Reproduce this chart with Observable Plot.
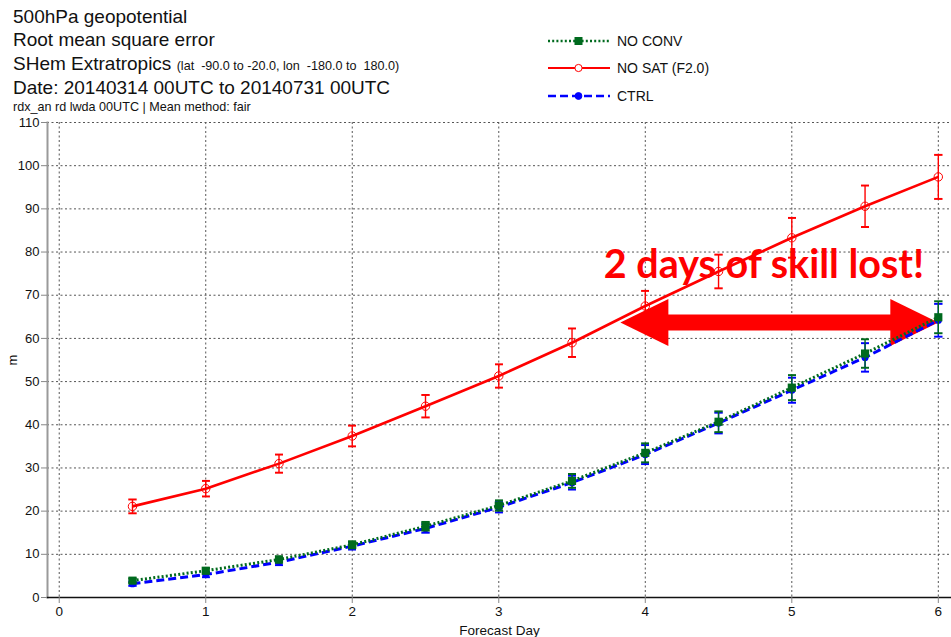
<!DOCTYPE html>
<html>
<head>
<meta charset="utf-8">
<script src="https://cdn.jsdelivr.net/npm/d3@7"></script>
<script src="https://cdn.jsdelivr.net/npm/@observablehq/plot@0.6"></script>
<style>
  body { margin: 0; background: #fff; font-family: "Liberation Sans", Arial, sans-serif; color: #111; }
  #wrap { position: relative; width: 951px; height: 637px; overflow: hidden; }
  #header { position: relative; height: 112px; z-index: 2; }
  .t { position: absolute; left: 13px; white-space: pre; font-size: 19px; line-height: 20px; }
  .small { font-size: 12.6px; line-height: 14px; }
  .sub { font-size: 12.6px; }
  .leg { position: absolute; left: 548px; height: 20px; display: flex; align-items: center; font-size: 14px; white-space: pre; }
  .leg svg { margin-right: 7px; }
  #chart { position: absolute; left: 0; top: 112px; z-index: 1; }
</style>
</head>
<body>
<div id="wrap">
  <div id="header">
    <div class="t" style="top:6.7px">500hPa geopotential</div>
    <div class="t" style="top:30.1px">Root mean square error</div>
    <div class="t" style="top:54.1px">SHem Extratropics <span class="sub">(lat  -90.0 to -20.0, lon  -180.0 to  180.0)</span></div>
    <div class="t" style="top:77.7px">Date: 20140314 00UTC to 20140731 00UTC</div>
    <div class="t small" style="top:99.6px">rdx_an rd lwda 00UTC | Mean method: fair</div>
    <div id="legend"></div>
  </div>
  <div id="chart"></div>
</div>
<script>
// ---- data ----
const days = [0.5, 1, 1.5, 2, 2.5, 3, 3.5, 4, 4.5, 5, 5.5, 6];
const noConv    = [3.9, 6.2, 8.8, 12.2, 16.5, 21.3, 27.0, 33.5, 40.7, 48.6, 56.5, 64.9];
const noConvErr = [0.5, 0.6, 0.7, 0.8, 1.0, 1.2, 1.6, 2.2, 2.4, 2.9, 3.3, 3.7];
const noSat     = [21.1, 25.2, 31.0, 37.4, 44.3, 51.3, 59.0, 67.5, 75.5, 83.3, 90.6, 97.4];
const noSatErr  = [1.6, 1.8, 2.1, 2.4, 2.6, 2.7, 3.3, 3.5, 3.9, 4.6, 4.8, 5.1];
const ctrl      = [3.2, 5.3, 8.2, 11.9, 16.0, 20.9, 26.6, 33.1, 40.4, 48.0, 55.6, 64.2];
const ctrlErr   = [0.5, 0.6, 0.7, 0.8, 1.0, 1.2, 1.6, 2.2, 2.4, 2.9, 3.3, 3.8];
const seriesNames = ["NO CONV", "NO SAT (F2.0)", "CTRL"];
const xTicks = [0, 1, 2, 3, 4, 5, 6];
const yTicks = [0, 10, 20, 30, 40, 50, 60, 70, 80, 90, 100, 110];
const annotationLabel = ["2 days of skill lost!"];
const annotationPos = [{day: 4.81, value: 76.9}];
const skillLost = [{from: 3.83, to: 6, value: 63.7}];

// ---- styles ----
const styles = {
  "NO CONV":       {color: "#006a1e", dash: "2,2.2", width: 3, symbol: "square", r: 4.6, fill: "#006a1e"},
  "NO SAT (F2.0)": {color: "#ff0000", dash: null,    width: 2.6, symbol: "circle", r: 4.2, fill: "none"},
  "CTRL":          {color: "#0000ff", dash: "8,4",   width: 3, symbol: "circle", r: 3.6, fill: "#0000ff"}
};

function rows(name, vals, errs) {
  return days.map((d, i) => ({series: name, day: d, value: vals[i], lo: vals[i] - errs[i], hi: vals[i] + errs[i]}));
}
const data = {
  "NO CONV": rows("NO CONV", noConv, noConvErr),
  "NO SAT (F2.0)": rows("NO SAT (F2.0)", noSat, noSatErr),
  "CTRL": rows("CTRL", ctrl, ctrlErr)
};

const headShape = {
  draw(ctx) { ctx.moveTo(0, 0); ctx.lineTo(-48, -23.5); ctx.lineTo(-48, 23.5); ctx.closePath(); }
};

function seriesMarks(name) {
  const s = styles[name], d = data[name];
  return [
    Plot.link(d, {x1: "day", x2: "day", y1: "lo", y2: "hi", stroke: s.color, strokeWidth: 1.4,
      markerStart: "tick", markerEnd: "tick"}),
    Plot.line(d, {x: "day", y: "value", stroke: s.color, strokeWidth: s.width,
      strokeDasharray: s.dash, strokeLinecap: "butt"}),
    Plot.dot(d, {x: "day", y: "value", symbol: s.symbol, r: s.r, fill: s.fill,
      stroke: s.color, strokeWidth: s.fill === "none" ? 1 : 0})
  ];
}

const chart = Plot.plot({
  width: 951,
  height: 525,
  marginTop: 10,
  marginBottom: 40,
  marginLeft: 47,
  marginRight: 0,
  style: {fontFamily: "Liberation Sans, Arial, sans-serif", background: "transparent", color: "#111"},
  x: {domain: [-0.08, 6.09]},
  y: {domain: [0, 110]},
  marks: [
    Plot.gridY(yTicks, {stroke: "#555", strokeOpacity: 1, strokeDasharray: "2,2.5", strokeWidth: 1}),
    Plot.gridX(xTicks, {stroke: "#555", strokeOpacity: 1, strokeDasharray: "2,2.5", strokeWidth: 1}),
    Plot.frame({anchor: "left", stroke: "#9a9a9a", strokeWidth: 2}),
    Plot.frame({anchor: "bottom", stroke: "#111", strokeWidth: 1.5}),
    Plot.axisY(yTicks, {tickSize: 6, tickPadding: 2, stroke: "#888", fontSize: 13, fill: "#111",
      tickFormat: d => String(d),
      label: "m", labelAnchor: "center", labelArrow: "none", labelOffset: 40}),
    Plot.axisX(xTicks, {tickSize: 6, tickPadding: 3, stroke: "#888", fontSize: 13.5, fill: "#111",
      tickFormat: d => String(d),
      label: "Forecast Day", labelAnchor: "center", labelArrow: "none", labelOffset: 37}),
    // annotation
    Plot.text(annotationPos, {x: "day", y: "value", text: () => annotationLabel[0],
      fontFamily: "Lato, sans-serif", fontWeight: "bold", fontSize: 39.5, fill: "#ff0000"}),
    Plot.ruleY(skillLost, {x1: "from", x2: "to", y: "value", stroke: "#ff0000", strokeWidth: 16,
      insetLeft: 40, insetRight: 40}),
    Plot.dot(skillLost, {x: "to", y: "value", symbol: headShape, fill: "#ff0000", stroke: "none"}),
    Plot.dot(skillLost, {x: "from", y: "value", symbol: headShape, rotate: 180, fill: "#ff0000", stroke: "none"}),
    ...seriesMarks("CTRL"),
    ...seriesMarks("NO CONV"),
    ...seriesMarks("NO SAT (F2.0)")
  ]
});
document.getElementById("chart").appendChild(chart);

// ---- legend ----
const legend = document.getElementById("legend");
const legendTops = [31, 58, 86];
seriesNames.forEach((name, i) => {
  const s = styles[name];
  const row = document.createElement("div");
  row.className = "leg";
  row.style.top = legendTops[i] + "px";
  const ns = "http://www.w3.org/2000/svg";
  const svg = document.createElementNS(ns, "svg");
  svg.setAttribute("width", 62); svg.setAttribute("height", 14);
  const line = document.createElementNS(ns, "line");
  line.setAttribute("x1", 0); line.setAttribute("x2", 62);
  line.setAttribute("y1", 7); line.setAttribute("y2", 7);
  line.setAttribute("stroke", s.color);
  line.setAttribute("stroke-width", s.width - 0.4);
  if (s.dash) line.setAttribute("stroke-dasharray", s.dash);
  svg.appendChild(line);
  let m;
  if (s.symbol === "square") {
    m = document.createElementNS(ns, "rect");
    m.setAttribute("x", 26.5); m.setAttribute("y", 3); m.setAttribute("width", 8); m.setAttribute("height", 8);
    m.setAttribute("fill", s.color);
  } else {
    m = document.createElementNS(ns, "circle");
    m.setAttribute("cx", 30.5); m.setAttribute("cy", 7); m.setAttribute("r", s.fill === "none" ? 3.6 : 3.4);
    m.setAttribute("fill", s.fill === "none" ? "white" : s.color);
    m.setAttribute("stroke", s.color);
    m.setAttribute("stroke-width", 1);
  }
  svg.appendChild(m);
  row.appendChild(svg);
  row.appendChild(document.createTextNode(name));
  legend.appendChild(row);
});
</script>
</body>
</html>
